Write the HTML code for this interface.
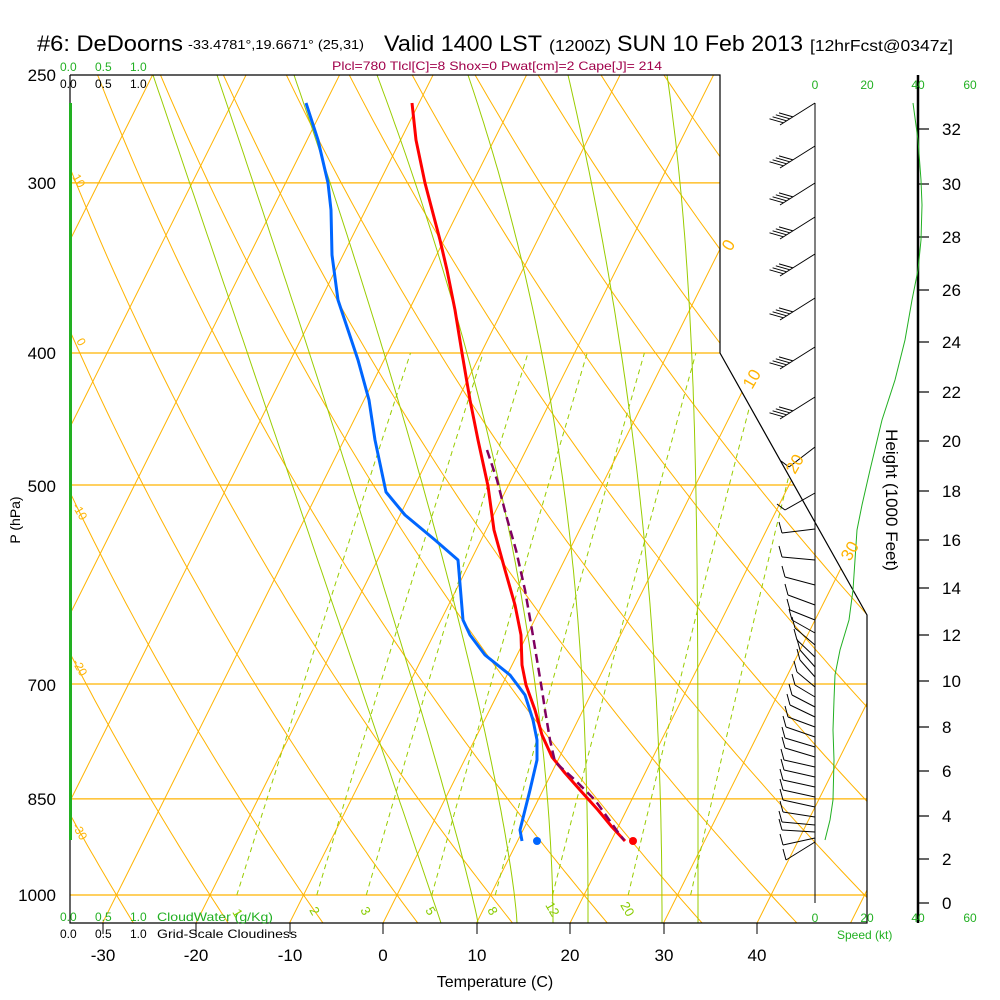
<!DOCTYPE html>
<html><head><meta charset="utf-8"><style>
html,body{margin:0;padding:0;background:#fff;}
svg{display:block;font-family:"Liberation Sans",sans-serif;}
</style></head><body>
<svg id="s" width="1000" height="1000" viewBox="0 0 1000 1000" xmlns="http://www.w3.org/2000/svg">
<defs><clipPath id="cp"><polygon points="70,75 720,75 720,353 867,615 867,923 70,923"/></clipPath></defs>
<g id="grid" clip-path="url(#cp)"></g>
<!-- frame -->
<polyline points="70,75 720,75 720,353 867,615 867,923 70,923 70,75" fill="none" stroke="#000" stroke-width="1.2"/>
<line x1="70.5" y1="103" x2="70.5" y2="840" stroke="#22b022" stroke-width="3"/>
<!-- bottom ticks -->
<g stroke="#000" stroke-width="1">
<line x1="103" y1="923" x2="103" y2="934"/><line x1="196" y1="923" x2="196" y2="934"/><line x1="290" y1="923" x2="290" y2="934"/><line x1="383" y1="923" x2="383" y2="934"/><line x1="477" y1="923" x2="477" y2="934"/><line x1="570" y1="923" x2="570" y2="934"/><line x1="664" y1="923" x2="664" y2="934"/><line x1="757" y1="923" x2="757" y2="934"/>
</g>
<!-- wind axis -->
<line x1="815" y1="103" x2="815" y2="903" stroke="#000" stroke-width="1"/>
<g id="barbs" stroke="#000" stroke-width="1" fill="none"></g>
<!-- height axis -->
<line x1="918" y1="75" x2="918" y2="923" stroke="#000" stroke-width="2.5"/>
<g id="hticks" stroke="#000" stroke-width="1.2"></g>
<polyline fill="none" stroke="#22b022" stroke-width="1" points="913,103 918,140 921,180 922,205 921,240 918,270 912,300 905,340 895,380 882,420 870,470 862,505 857,530 855,560 853,590 849,620 840,650 835,675 834,700 833,730 834,760 833,800 830,820 825,840"/>
<!-- soundings -->
<g id="snd"></g>
<circle cx="537" cy="841" r="4" fill="#0066ff"/>
<circle cx="633" cy="841" r="4" fill="#ff0000"/>
<!-- title -->
<text x="37" y="51" font-size="22" textLength="146" lengthAdjust="spacingAndGlyphs">#6: DeDoorns</text>
<text x="188" y="49" font-size="13" textLength="176" lengthAdjust="spacingAndGlyphs">-33.4781°,19.6671° (25,31)</text>
<text x="384" y="51" font-size="22" textLength="158" lengthAdjust="spacingAndGlyphs">Valid 1400 LST</text>
<text x="549" y="51" font-size="16" textLength="62" lengthAdjust="spacingAndGlyphs">(1200Z)</text>
<text x="617" y="51" font-size="22" textLength="186" lengthAdjust="spacingAndGlyphs">SUN 10 Feb 2013</text>
<text x="810" y="51" font-size="16" textLength="143" lengthAdjust="spacingAndGlyphs">[12hrFcst@0347z]</text>
<text x="332" y="70" font-size="12" fill="#a0004a" textLength="330" lengthAdjust="spacingAndGlyphs">Plcl=780 Tlcl[C]=8 Shox=0 Pwat[cm]=2 Cape[J]= 214</text>
<g font-size="12" fill="#22b022"><text x="60" y="71">0.0</text><text x="95" y="71">0.5</text><text x="130" y="71">1.0</text></g>
<g font-size="12" fill="#000"><text x="60" y="88">0.0</text><text x="95" y="88">0.5</text><text x="130" y="88">1.0</text></g>
<g font-size="12" fill="#22b022"><text x="60" y="921">0.0</text><text x="95" y="921">0.5</text><text x="130" y="921">1.0</text><text x="157" y="921" textLength="116" lengthAdjust="spacingAndGlyphs">CloudWater (g/Kg)</text></g>
<g font-size="12" fill="#000"><text x="60" y="938">0.0</text><text x="95" y="938">0.5</text><text x="130" y="938">1.0</text><text x="157" y="938" textLength="140" lengthAdjust="spacingAndGlyphs">Grid-Scale Cloudiness</text></g>
<!-- pressure labels -->
<g font-size="17" fill="#000" text-anchor="end">
<text x="56" y="81">250</text><text x="56" y="189">300</text><text x="56" y="359">400</text><text x="56" y="492">500</text><text x="56" y="691">700</text><text x="56" y="805">850</text><text x="56" y="901">1000</text>
</g>
<text transform="translate(20,520) rotate(-90)" font-size="14" text-anchor="middle">P (hPa)</text>
<!-- temperature labels -->
<g font-size="17" fill="#000" text-anchor="middle">
<text x="103" y="961">-30</text><text x="196" y="961">-20</text><text x="290" y="961">-10</text><text x="383" y="961">0</text><text x="477" y="961">10</text><text x="570" y="961">20</text><text x="664" y="961">30</text><text x="757" y="961">40</text>
</g>
<text x="495" y="987" font-size="16" text-anchor="middle">Temperature (C)</text>
<!-- speed labels -->
<g font-size="12" fill="#22b022" text-anchor="middle">
<text x="815" y="89">0</text><text x="867" y="89">20</text><text x="918" y="89">40</text><text x="970" y="89">60</text>
<text x="815" y="922">0</text><text x="867" y="922">20</text><text x="918" y="922">40</text><text x="970" y="922">60</text>
</g>
<text x="837" y="939" font-size="12" fill="#22b022">Speed (kt)</text>
<text transform="translate(886,500) rotate(90)" font-size="17" text-anchor="middle">Height (1000 Feet)</text>
<g font-size="17" fill="#000">
<text x="942" y="909">0</text><text x="942" y="865">2</text><text x="942" y="822">4</text><text x="942" y="777">6</text><text x="942" y="733">8</text><text x="942" y="687">10</text><text x="942" y="641">12</text><text x="942" y="594">14</text><text x="942" y="546">16</text><text x="942" y="497">18</text><text x="942" y="447">20</text><text x="942" y="398">22</text><text x="942" y="348">24</text><text x="942" y="296">26</text><text x="942" y="243">28</text><text x="942" y="190">30</text><text x="942" y="135">32</text>
</g>
<!-- isotherm labels -->
<g font-size="17" fill="#ffb300">
<text transform="translate(731,252) rotate(-60)">0</text>
<text transform="translate(752,390) rotate(-60)">10</text>
<text transform="translate(795,475) rotate(-60)">20</text>
<text transform="translate(850,562) rotate(-60)">30</text>
</g>
<g font-size="12" fill="#ffb300">
<text transform="translate(72,177) rotate(60)">10</text>
<text transform="translate(76,341) rotate(60)">0</text>
<text transform="translate(72,506) rotate(60)">-10</text>
<text transform="translate(72,662) rotate(60)">-20</text>
<text transform="translate(72,826) rotate(60)">-30</text>
</g>
<g font-size="13" fill="#88cc00">
<text transform="translate(232,912) rotate(60)">1</text>
<text transform="translate(309,910) rotate(60)">2</text>
<text transform="translate(360,910) rotate(60)">3</text>
<text transform="translate(425,910) rotate(60)">5</text>
<text transform="translate(487,910) rotate(60)">8</text>
<text transform="translate(545,905) rotate(60)">12</text>
<text transform="translate(620,905) rotate(60)">20</text>
</g>
<script>
(function(){
var NS="http://www.w3.org/2000/svg";
function Y(p){return 895-591.5*Math.log(1000/p);}
function X(T,p){return 383+9.35*T+0.5*(923-Y(p));}
function pl(par,pts,attrs){var e=document.createElementNS(NS,"polyline");e.setAttribute("points",pts.map(function(a){return a[0].toFixed(1)+","+a[1].toFixed(1)}).join(" "));e.setAttribute("fill","none");for(var k in attrs)e.setAttribute(k,attrs[k]);par.appendChild(e);}
var g=document.getElementById("grid");
var OR="#ffb300",GR="#99cc00";
[300,400,500,700,850,1000].forEach(function(p){pl(g,[[70,Y(p)],[870,Y(p)]],{stroke:OR,"stroke-width":1.2});});
for(var T=-120;T<=50;T+=10){pl(g,[[X(T,1060),Y(1060)],[X(T,240),Y(240)]],{stroke:OR,"stroke-width":1});}
for(var th=-50;th<=200;th+=10){var pts=[];for(var p=1060;p>=240;p-=10){var t=(th+273.15)*Math.pow(p/1000,0.2857)-273.15;pts.push([X(t,p),Y(p)]);}pl(g,pts,{stroke:OR,"stroke-width":1});}
// moist adiabats (fitted to reference)
[[153,441,1],[217,478,1.1],[294,517,1.3],[377,553,1.8],[468,588,2.4],[568,662,2.1],[667,698,4]].forEach(function(m){
 var pts=[];for(var y=75;y<=923;y+=8){var t=(923-y)/848;pts.push([m[1]-(m[1]-m[0])*Math.pow(t,m[2]),y]);}
 pl(g,pts,{stroke:GR,"stroke-width":1});});
[1,2,3,5,8,12,20,30].forEach(function(w){var pts=[];for(var p=1000;p>=400;p-=10){var e=(w/1000)*p/(0.622+w/1000),l=Math.log(e/6.112),td=243.5*l/(17.67-l);pts.push([X(td,p),Y(p)]);}pl(g,pts,{stroke:GR,"stroke-width":1,"stroke-dasharray":"5,4"});});
var s=document.getElementById("snd");
pl(s,[[412,103],[416,140],[425,183],[440,240],[447,270],[455,310],[462,353],[470,400],[478,440],[488,486],[494,530],[505,570],[515,605],[521,635],[522,665],[526,685],[535,710],[542,735],[552,757],[565,773],[580,790],[598,810],[612,827],[625,841]],{stroke:"#ff0000","stroke-width":3,"stroke-linejoin":"round"});
pl(s,[[306,103],[318,140],[328,183],[331,210],[332,255],[338,300],[348,330],[358,360],[369,400],[375,440],[386,492],[405,515],[435,540],[458,560],[463,620],[470,635],[485,655],[510,675],[525,695],[533,720],[537,740],[537,760],[530,790],[525,810],[520,830],[522,841]],{stroke:"#0066ff","stroke-width":3,"stroke-linejoin":"round"});
pl(s,[[487,450],[497,480],[506,515],[516,550],[525,590],[532,630],[537,660],[542,690],[545,710],[550,740],[555,762],[575,780],[595,800],[620,835],[624,840]],{stroke:"#800060","stroke-width":2.5,"stroke-dasharray":"9,5"});
var ht=document.getElementById("hticks");
[903,859,816,771,727,681,635,588,540,491,441,392,342,290,237,184,129].forEach(function(y){pl(ht,[[918,y],[929,y]],{});});
var b=document.getElementById("barbs");
[103,146,183,217,254,298,347,397].forEach(function(y){
 var ex=780,ey=y+22;pl(b,[[815,y],[ex,ey]],{});
 for(var i=0;i<4;i++){var f=0.1+i*0.09;var sx=ex+(815-ex)*f,sy=ey+(y-ey)*f;pl(b,[[sx,sy],[sx-14,sy-4]],{});}
});
[[447,789,467],[493,785,510]].forEach(function(a){pl(b,[[815,a[0]],[a[1],a[2]]],{});pl(b,[[a[1],a[2]],[a[1]-8,a[2]-6]],{});});
[[529,782,533],[560,782,557],[585,785,577],[605,788,595],[620,790,610],[633,792,620],[645,795,628],[657,797,640],[667,800,650],[677,800,660],[687,797,672],[697,795,685],[707,792,695],[717,790,705],[727,788,717],[737,786,727],[747,785,738],[757,785,748],[767,784,760],[777,784,770],[787,783,780],[797,783,790],[807,783,800],[817,783,812],[825,782,822],[832,782,830],[838,783,845],[842,786,860]].forEach(function(a){
 pl(b,[[815,a[0]],[a[1],a[2]]],{});pl(b,[[a[1],a[2]],[a[1]-3,a[2]-11]],{});});
})();
</script>
</svg>
</body></html>
